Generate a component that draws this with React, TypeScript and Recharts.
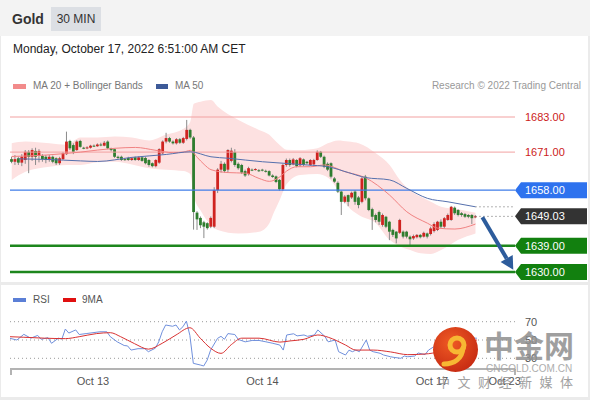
import React from 'react';
import { ComposedChart, Bar, Line, Area, XAxis, YAxis, ReferenceLine } from 'recharts';

// 30 min candles (index 0 = first candle on the left)
const OPEN = [
  1668.6, 1667.7, 1668.9, 1667.4, 1668.3, 1671.1, 1669.4, 1671.4, 1669.7, 1669.7,
  1669.4, 1668.3, 1669.4, 1668.9, 1667.2, 1668.6, 1670.3, 1674.8, 1673.4, 1671.7,
  1674.8, 1672.5, 1672.3, 1672.5, 1673.2, 1673.0, 1673.6, 1673.2, 1674.6, 1672.3,
  1672.0, 1669.4, 1669.4, 1668.6, 1669.0, 1668.3, 1669.2, 1668.3, 1669.2, 1669.0,
  1668.3, 1667.2, 1666.2, 1667.4, 1670.6, 1674.6, 1675.8, 1674.6, 1674.0, 1675.4,
  1674.2, 1675.5, 1678.6, 1676.0, 1650.3, 1648.5, 1647.0, 1646.7, 1645.5, 1645.5,
  1658.0, 1665.0, 1667.0, 1665.0, 1668.0, 1671.0, 1667.0, 1666.6, 1664.5, 1663.5,
  1665.0, 1665.0, 1664.8, 1665.0, 1664.6, 1664.5, 1663.0, 1662.7, 1661.5, 1658.3,
  1666.6, 1668.3, 1666.8, 1668.3, 1666.5, 1668.5, 1667.7, 1666.6, 1666.8, 1668.3,
  1671.1, 1669.4, 1667.0, 1667.2, 1662.0, 1660.5, 1657.5, 1654.0, 1656.3, 1655.5,
  1657.5, 1655.5, 1654.0, 1662.6, 1655.2, 1651.5, 1649.5, 1650.5, 1646.1, 1648.9,
  1647.2, 1644.4, 1643.8, 1643.4, 1643.8, 1643.8, 1642.1, 1641.5, 1641.9, 1642.7,
  1642.1, 1643.2, 1643.0, 1644.0, 1644.4, 1647.2, 1645.5, 1647.8, 1647.8, 1652.0,
  1651.2, 1650.1, 1649.8, 1649.5, 1649.5, 1648.7,
];
const HIGH = [
  1669.4, 1670.0, 1669.4, 1670.3, 1671.7, 1671.7, 1672.3, 1672.5, 1672.0, 1670.3,
  1670.0, 1670.0, 1669.8, 1669.2, 1669.4, 1671.0, 1678.0, 1675.2, 1674.0, 1675.0,
  1675.2, 1672.8, 1673.0, 1673.5, 1673.6, 1674.0, 1674.2, 1674.8, 1675.0, 1672.5,
  1672.2, 1669.8, 1669.8, 1669.0, 1669.4, 1669.2, 1669.5, 1669.5, 1669.5, 1669.4,
  1668.6, 1667.5, 1668.6, 1672.3, 1675.0, 1677.6, 1676.2, 1675.0, 1675.8, 1675.8,
  1676.2, 1682.0, 1679.0, 1676.5, 1650.8, 1649.0, 1647.5, 1647.0, 1649.0, 1659.0,
  1665.5, 1668.0, 1667.5, 1672.0, 1672.5, 1672.0, 1667.5, 1667.0, 1665.0, 1666.0,
  1665.4, 1665.5, 1665.2, 1665.3, 1665.0, 1664.8, 1663.4, 1663.0, 1661.8, 1667.0,
  1668.8, 1668.8, 1669.0, 1668.6, 1669.3, 1668.8, 1668.0, 1668.6, 1668.7, 1671.6,
  1671.4, 1669.8, 1667.5, 1667.5, 1662.5, 1661.0, 1657.8, 1656.3, 1656.5, 1657.5,
  1658.0, 1656.0, 1662.5, 1663.2, 1655.5, 1652.0, 1650.0, 1651.0, 1650.0, 1649.2,
  1647.5, 1644.8, 1644.0, 1648.2, 1644.2, 1644.1, 1642.5, 1642.8, 1643.0, 1643.0,
  1643.8, 1643.5, 1645.5, 1647.0, 1647.5, 1648.0, 1648.8, 1650.0, 1652.6, 1652.4,
  1651.5, 1650.5, 1650.2, 1649.8, 1649.8, 1649.5,
];
const LOW = [
  1667.2, 1666.6, 1666.6, 1666.2, 1667.0, 1663.8, 1668.0, 1666.6, 1667.5, 1667.7,
  1667.2, 1667.7, 1667.2, 1666.6, 1666.6, 1668.3, 1670.0, 1671.7, 1670.3, 1671.4,
  1672.5, 1672.0, 1672.0, 1672.2, 1672.8, 1672.8, 1673.0, 1673.0, 1672.0, 1671.2,
  1669.0, 1668.5, 1668.0, 1668.0, 1668.0, 1668.0, 1668.0, 1668.0, 1667.7, 1666.8,
  1666.0, 1665.8, 1665.8, 1667.0, 1670.3, 1674.0, 1674.2, 1673.6, 1673.6, 1673.8,
  1673.8, 1675.0, 1675.5, 1644.5, 1644.4, 1645.0, 1641.6, 1644.5, 1645.0, 1645.0,
  1657.0, 1664.0, 1664.0, 1664.0, 1667.5, 1666.0, 1665.0, 1663.5, 1662.5, 1663.0,
  1664.5, 1664.7, 1664.2, 1664.4, 1664.0, 1662.7, 1662.2, 1660.4, 1657.8, 1657.8,
  1666.0, 1666.0, 1666.5, 1665.8, 1666.0, 1666.2, 1666.8, 1666.3, 1666.5, 1668.0,
  1669.0, 1665.5, 1664.5, 1662.0, 1660.5, 1657.0, 1649.5, 1653.5, 1652.5, 1655.0,
  1653.0, 1651.8, 1653.5, 1654.5, 1650.8, 1644.4, 1647.0, 1646.1, 1645.5, 1645.0,
  1640.9, 1642.0, 1639.8, 1643.0, 1641.5, 1641.5, 1638.7, 1641.0, 1641.5, 1641.5,
  1641.8, 1641.5, 1642.5, 1643.5, 1644.0, 1645.0, 1645.0, 1647.5, 1647.5, 1649.5,
  1649.0, 1648.9, 1648.5, 1648.4, 1646.4, 1648.4,
];
const CLOSE = [
  1667.7, 1668.6, 1667.4, 1669.4, 1671.1, 1669.4, 1671.7, 1669.4, 1671.4, 1668.6,
  1668.3, 1669.4, 1667.7, 1667.2, 1668.9, 1670.6, 1674.6, 1672.3, 1671.1, 1674.6,
  1672.8, 1672.3, 1672.6, 1673.2, 1673.0, 1673.6, 1673.4, 1674.2, 1672.3, 1671.7,
  1669.4, 1669.0, 1668.3, 1668.3, 1668.3, 1668.9, 1668.3, 1669.2, 1668.0, 1667.2,
  1666.6, 1666.2, 1668.3, 1672.0, 1674.6, 1675.8, 1674.6, 1674.0, 1675.4, 1674.2,
  1675.8, 1678.6, 1676.0, 1650.5, 1648.0, 1646.0, 1645.5, 1645.0, 1648.5, 1658.0,
  1665.0, 1667.0, 1664.5, 1671.7, 1671.5, 1666.6, 1665.5, 1664.0, 1663.0, 1665.5,
  1664.8, 1665.2, 1664.5, 1664.7, 1664.3, 1663.0, 1662.5, 1660.8, 1658.3, 1666.6,
  1668.3, 1666.6, 1668.5, 1666.2, 1668.9, 1666.6, 1667.2, 1668.3, 1668.3, 1671.1,
  1669.4, 1666.0, 1665.0, 1662.6, 1660.9, 1657.5, 1654.0, 1655.8, 1654.0, 1657.1,
  1654.0, 1652.9, 1662.0, 1655.2, 1651.2, 1648.9, 1647.8, 1647.2, 1649.5, 1645.5,
  1643.8, 1642.7, 1641.5, 1647.8, 1642.1, 1642.1, 1641.2, 1642.3, 1642.7, 1641.9,
  1643.4, 1642.1, 1644.9, 1646.4, 1647.2, 1645.5, 1648.4, 1649.5, 1652.3, 1650.1,
  1649.5, 1649.5, 1648.9, 1648.9, 1648.4, 1649.03,
];

// empty slots after the last candle, room for the projection arrow
const SLOTS = 147;

// Bollinger bands, sampled at candle indexes
const BAND_AT = [0, 4, 11, 16, 20, 25, 30, 35, 40, 45, 50, 52, 53, 55, 58, 60, 66, 72, 75, 76, 78, 80, 84, 89, 92, 95, 98, 101, 106, 110, 113, 116, 119, 122, 125, 130, 135];
const BAND_UP = [1674, 1674.6, 1674, 1673.5, 1676, 1676, 1676.3, 1676, 1675, 1677, 1679, 1681.5, 1687.5, 1688.2, 1688.8, 1686.5, 1682, 1678.6, 1676.9, 1675.7, 1673.4, 1671.8, 1671.7, 1672.3, 1674, 1675, 1674.6, 1674, 1670.6, 1666.6, 1661.5, 1658, 1655.8, 1654, 1652.3, 1651.5, 1650.3];
const BAND_LOW = [1661.5, 1664.3, 1666, 1666.6, 1666.6, 1667.5, 1667.7, 1666.8, 1665.5, 1665, 1664.5, 1663.5, 1656, 1651, 1646, 1644.4, 1643.2, 1643.8, 1646.7, 1649.5, 1654.6, 1660, 1663.2, 1663.5, 1662.3, 1658, 1652.3, 1649.5, 1646.7, 1641, 1638.7, 1637.5, 1636.4, 1636.2, 1637.5, 1641, 1643.2];

const MA20_AT = [0, 10, 20, 30, 36, 42, 47, 50, 52, 54, 56, 58, 63, 68, 72, 75, 78, 80, 83, 87, 91, 97, 103, 110, 115, 121, 124, 129, 135];
const MA20 = [1669.5, 1670, 1671, 1672.3, 1672.6, 1671.6, 1670.8, 1671, 1671.6, 1669.2, 1666.8, 1665, 1664, 1663.8, 1662, 1661, 1662.5, 1664.5, 1666, 1666, 1666.6, 1664.3, 1662.2, 1656.3, 1650.6, 1646.7, 1645, 1644.7, 1646.4];

const MA50_AT = [2, 10, 20, 25, 35, 45, 52, 58, 63, 73, 79, 86, 92, 98, 103, 110, 115, 121, 127, 135];
const MA50 = [1668.7, 1668.5, 1668, 1667.8, 1669.2, 1670.2, 1671.1, 1669.4, 1668.9, 1667.7, 1667.2, 1666.6, 1666, 1664, 1662.3, 1661.5, 1658.6, 1655.2, 1654, 1652.3];

const RSI_AT = [0, 2, 4, 6, 8, 9, 11, 12, 14, 15, 16, 17, 19, 20, 22, 24, 26, 28, 29, 31, 33, 34, 35, 37, 39, 40, 42, 43, 44, 45, 47, 48, 49, 50, 51, 52, 53, 55, 56, 57, 58, 60, 61, 62, 63, 65, 66, 68, 70, 72, 74, 76, 78, 79, 80, 82, 83, 85, 86, 88, 89, 91, 92, 94, 95, 97, 98, 99, 100, 101, 103, 104, 105, 107, 108, 110, 111, 113, 114, 115, 117, 118, 120, 121, 124, 127, 129, 131, 133, 135];
const RSI = [51.8, 50, 56.2, 52, 55, 50.8, 52.5, 46.4, 52, 51, 62, 57.6, 61, 56, 57, 58, 59, 59, 53.6, 48, 44, 43.5, 39, 40.5, 40.5, 37.2, 41, 48, 59, 66.4, 65, 66.4, 61, 64.5, 70.7, 55, 24.5, 22.7, 21.6, 28, 39, 51.8, 54, 50.8, 57, 56, 50.6, 48, 49.5, 49.5, 48, 46.4, 44.5, 39, 55.5, 56.8, 54.5, 55.5, 54, 55.5, 61, 54, 48, 50, 37.2, 33.6, 38.9, 37.2, 39, 37.2, 50, 39, 37.2, 35.5, 33.6, 31.7, 31, 30, 32.5, 31.7, 32.5, 35.8, 34, 39, 46, 55, 58, 54, 52, 52];

const MA9_AT = [0, 4, 10, 16, 20, 25, 29, 32, 36, 40, 44, 48, 52, 55, 58, 61, 64, 67, 72, 78, 81, 85, 89, 92, 97, 100, 105, 110, 115, 121, 126, 131, 135];
const MA9 = [53.6, 53, 52, 51.5, 53.6, 57, 58, 53.6, 46, 40, 46.4, 55.5, 63.4, 52, 41, 35.4, 45, 52, 52, 47.7, 49, 50.8, 55.5, 53, 44.5, 39, 39, 37, 34, 35, 40, 47, 50];

const DATE_TICKS = [24, 73, 122, 143];
const DATE_LABELS = ['Oct 13', 'Oct 14', 'Oct 17', 'Oct 23'];

const RESIST = [1683, 1671];
const PIVOT = 1658;
const LAST = 1649.03;
const MA50_END = 1652.3;
const SUPPORT = [1639, 1630];
const TARGET = 1630.8;
const RSI_LEVELS = [70, 50, 30];

const UP = '#cf2320';
const DOWN = '#2f7d2f';
const FONT = '"Liberation Sans", Arial, Helvetica, sans-serif';

const rows = Array.from({ length: SLOTS }, (_, i) => {
  const r: Record<string, any> = { i };
  if (i < OPEN.length) {
    r.o = OPEN[i];
    r.h = HIGH[i];
    r.l = LOW[i];
    r.c = CLOSE[i];
  }
  return r;
});
BAND_AT.forEach((i, k) => { rows[i].band = [BAND_LOW[k], BAND_UP[k]]; });
MA20_AT.forEach((i, k) => { rows[i].ma20 = MA20[k]; });
MA50_AT.forEach((i, k) => { rows[i].ma50 = MA50[k]; });
RSI_AT.forEach((i, k) => { rows[i].rsi = RSI[k]; });
MA9_AT.forEach((i, k) => { rows[i].ma9 = MA9[k]; });

function Candle(props: any) {
  const { x, y, width, height, payload } = props;
  if (!payload || payload.o === undefined) return <g />;
  const { o, h, l, c } = payload;
  const top = Math.min(y, y + height);
  const span = Math.abs(height);
  const k = h > l ? span / (h - l) : 0;
  const py = (v: number) => top + (h - v) * k;
  const cx = x + width / 2;
  const bodyTop = py(Math.max(o, c));
  const bodyH = Math.max(1, Math.abs(py(o) - py(c)));
  return (
    <g>
      <line x1={cx} x2={cx} y1={top} y2={top + span} stroke="#8a8a8a" strokeWidth={1} />
      <rect x={cx - 1.4} y={bodyTop} width={2.8} height={bodyH} fill={c >= o ? UP : DOWN} />
    </g>
  );
}

// price label on the right edge of the plot, optionally inside an arrow tag
function Tag({ viewBox, text, bg, color }: any) {
  if (!viewBox) return null;
  const x = viewBox.x + viewBox.width;
  const y = viewBox.y;
  return (
    <g>
      {bg && (
        <polygon
          points={`${x},${y} ${x + 6},${y - 8} ${x + 72},${y - 8} ${x + 72},${y + 8} ${x + 6},${y + 8}`}
          fill={bg}
        />
      )}
      <text x={x + 10} y={y} dy="0.36em" fontSize={11} fill={color} fontFamily={FONT}>{text}</text>
    </g>
  );
}

function Arrow(props: any) {
  const { x1, y1, x2, y2 } = props;
  const a = Math.atan2(y2 - y1, x2 - x1);
  const len = 13;
  const w = 7;
  const bx = x2 - len * Math.cos(a);
  const by = y2 - len * Math.sin(a);
  const nx = -Math.sin(a);
  const ny = Math.cos(a);
  return (
    <g>
      <line x1={x1} y1={y1} x2={bx} y2={by} stroke="#2d5c9c" strokeWidth={4} />
      <polygon points={`${x2},${y2} ${bx + nx * w},${by + ny * w} ${bx - nx * w},${by - ny * w}`} fill="#2d5c9c" />
    </g>
  );
}

function RsiTag({ viewBox, text }: any) {
  if (!viewBox) return null;
  return (
    <text x={viewBox.x + viewBox.width + 10} y={viewBox.y} dy="0.36em" fontSize={11} fill="#555" fontFamily={FONT}>
      {text}
    </text>
  );
}

export default function App() {
  return (
    <div style={{ position: 'relative', width: 590, height: 400, background: '#ebebeb', fontFamily: FONT, overflow: 'hidden' }}>
      <style>{'body{margin:0}'}</style>

      {/* header */}
      <div style={{ position: 'absolute', left: 0, top: 0, width: 590, height: 36, background: '#f3f3f3' }} />
      <div style={{ position: 'absolute', left: 12, top: 11, fontSize: 14, lineHeight: '16px', fontWeight: 700, color: '#333' }}>Gold</div>
      <div style={{ position: 'absolute', left: 51, top: 7, width: 50, height: 24, background: '#dcdfe4', fontSize: 12, lineHeight: '24px', textAlign: 'center', color: '#333' }}>30 MIN</div>

      {/* panels */}
      <div style={{ position: 'absolute', left: 1, top: 36, width: 587, height: 246, background: '#fff' }} />
      <div style={{ position: 'absolute', left: 1, top: 285, width: 587, height: 112, background: '#fff' }} />

      <div style={{ position: 'absolute', left: 13, top: 42, fontSize: 12, lineHeight: '14px', color: '#222' }}>
        Monday, October 17, 2022 6:51:00 AM CET
      </div>

      {/* legend of main chart */}
      <div style={{ position: 'absolute', left: 13, top: 84, width: 13, height: 5, background: '#f28b8b' }} />
      <div style={{ position: 'absolute', left: 33, top: 80, fontSize: 10, lineHeight: '12px', color: '#777' }}>MA 20 + Bollinger Bands</div>
      <div style={{ position: 'absolute', left: 156, top: 84, width: 12, height: 5, background: '#3d5a98' }} />
      <div style={{ position: 'absolute', left: 175, top: 80, fontSize: 10, lineHeight: '12px', color: '#777' }}>MA 50</div>
      <div style={{ position: 'absolute', right: 9, top: 80, fontSize: 10, lineHeight: '12px', color: '#999' }}>Research © 2022 Trading Central</div>

      {/* price chart */}
      <div style={{ position: 'absolute', left: 0, top: 0 }}>
        <ComposedChart width={590} height={284} data={rows} margin={{ top: 97, right: 75, bottom: 1, left: 10 }}>
          <XAxis dataKey="i" hide />
          <YAxis type="number" domain={[1626.25, 1689.84]} allowDataOverflow hide />
          <Area dataKey="band" type="monotone" fill="#fde1e1" fillOpacity={1} stroke="none" connectNulls isAnimationActive={false} />
          {RESIST.map((v) => (
            <ReferenceLine key={v} y={v} stroke="#f2a1a1" strokeWidth={1}
              label={<Tag text={v.toFixed(2)} color="#cc1b1b" />} />
          ))}
          <ReferenceLine y={PIVOT} stroke="#3f7ce8" strokeWidth={1.4}
            label={<Tag text={PIVOT.toFixed(2)} bg="#2e72ee" color="#fff" />} />
          {SUPPORT.map((v) => (
            <ReferenceLine key={v} y={v} stroke="#1d861d" strokeWidth={2.6}
              label={<Tag text={v.toFixed(2)} bg="#12800f" color="#fff" />} />
          ))}
          <ReferenceLine y={LAST} stroke="none"
            label={<Tag text={LAST.toFixed(2)} bg="#333333" color="#fff" />} />
          <ReferenceLine segment={[{ x: OPEN.length - 1, y: LAST }, { x: SLOTS - 1, y: LAST }]} stroke="#666" strokeDasharray="1 3" />
          <ReferenceLine segment={[{ x: OPEN.length - 1, y: MA50_END }, { x: SLOTS - 1, y: MA50_END }]} stroke="#666" strokeDasharray="1 3" />
          <Line dataKey="ma20" type="monotone" stroke="#f08282" strokeWidth={1} dot={false} connectNulls isAnimationActive={false} />
          <Line dataKey="ma50" type="monotone" stroke="#5570ad" strokeWidth={1} dot={false} connectNulls isAnimationActive={false} />
          <Bar dataKey={(d: any) => (d.o === undefined ? undefined : [d.l, d.h])} barSize={3} shape={<Candle />} isAnimationActive={false} />
          <ReferenceLine segment={[{ x: OPEN.length + 1, y: 1648.7 }, { x: SLOTS - 1, y: TARGET }]} shape={Arrow} />
        </ComposedChart>
      </div>

      {/* RSI legend */}
      <div style={{ position: 'absolute', left: 13, top: 298, width: 13, height: 4, background: '#5b7fd6' }} />
      <div style={{ position: 'absolute', left: 33, top: 294, fontSize: 10, lineHeight: '12px', color: '#555' }}>RSI</div>
      <div style={{ position: 'absolute', left: 63, top: 298, width: 13, height: 4, background: '#e01010' }} />
      <div style={{ position: 'absolute', left: 82, top: 294, fontSize: 10, lineHeight: '12px', color: '#555' }}>9MA</div>

      {/* RSI chart */}
      <div style={{ position: 'absolute', left: 0, top: 284 }}>
        <ComposedChart width={590} height={116} data={rows} margin={{ top: 8, right: 75, bottom: 1, left: 10 }}>
          <XAxis
            dataKey="i"
            height={30}
            ticks={DATE_TICKS}
            interval={0}
            tickFormatter={(v: number) => DATE_LABELS[DATE_TICKS.indexOf(v)] ?? ''}
            tickLine={false}
            axisLine={{ stroke: '#b3b3b3', strokeWidth: 2 }}
            tick={{ fontSize: 11, fill: '#555' }}
          />
          <YAxis type="number" domain={[18.31, 102.46]} allowDataOverflow hide />
          {RSI_LEVELS.map((v) => (
            <ReferenceLine key={v} y={v} stroke="#9a9a9a" strokeDasharray="1 3" label={<RsiTag text={String(v)} />} />
          ))}
          <Line dataKey="rsi" type="linear" stroke="#7090dc" strokeWidth={1} dot={false} connectNulls isAnimationActive={false} />
          <Line dataKey="ma9" type="monotone" stroke="#d83232" strokeWidth={1} dot={false} connectNulls isAnimationActive={false} />
        </ComposedChart>
      </div>
      <div style={{ position: 'absolute', left: 10, top: 369, width: 2, height: 6, background: '#b3b3b3' }} />
      <div style={{ position: 'absolute', left: 514, top: 369, width: 2, height: 6, background: '#b3b3b3' }} />

      {/* cngold watermark */}
      <svg style={{ position: 'absolute', left: 432, top: 326 }} width={48} height={48}>
        <defs>
          <radialGradient id="wm" cx="40%" cy="35%" r="70%">
            <stop offset="0%" stopColor="#ef5a24" />
            <stop offset="100%" stopColor="#c62a12" />
          </radialGradient>
        </defs>
        <circle cx={23.5} cy={23.5} r={22.5} fill="url(#wm)" />
        <circle cx={25} cy={19} r={7} fill="none" stroke="#f7b733" strokeWidth={5} />
        <path d="M31 22 C30 33 22 38 12 38" fill="none" stroke="#f7b733" strokeWidth={5} strokeLinecap="round" />
      </svg>
      <div style={{ position: 'absolute', left: 484, top: 326, fontSize: 30, lineHeight: '36px', fontWeight: 700, color: '#8f8f8f', opacity: 0.85, fontFamily: '"Noto Sans CJK SC", sans-serif' }}>中金网</div>
      <div style={{ position: 'absolute', left: 486, top: 363, fontSize: 10, lineHeight: '11px', color: '#a5a5a5', opacity: 0.9 }}>CNGOLD.COM.CN</div>
      <div style={{ position: 'absolute', left: 437, top: 374, fontSize: 13, lineHeight: '16px', letterSpacing: 7.5, color: '#8a8a8a', opacity: 0.8, fontFamily: '"Noto Sans CJK SC", sans-serif' }}>中文财经新媒体</div>
    </div>
  );
}
